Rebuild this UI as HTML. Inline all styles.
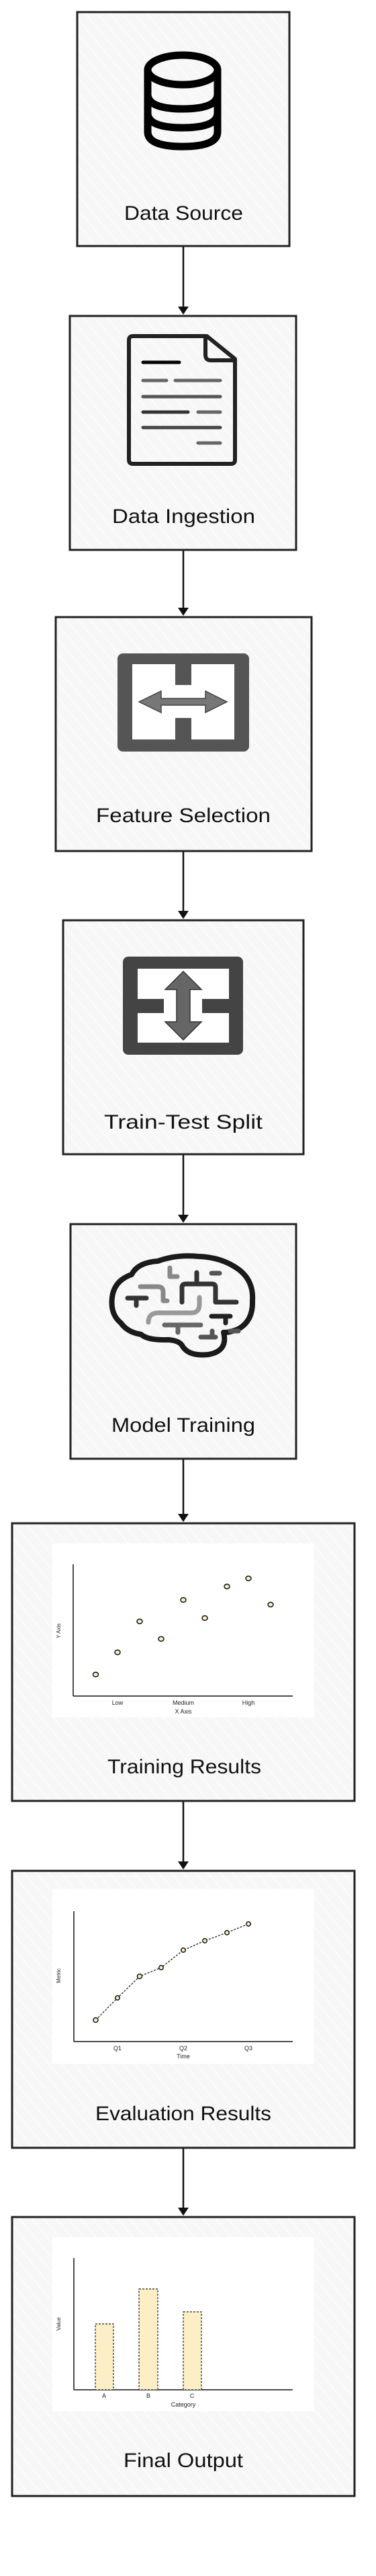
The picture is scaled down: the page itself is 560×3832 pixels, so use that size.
<!DOCTYPE html>
<html><head><meta charset="utf-8"><style>
html,body{margin:0;padding:0;background:#fff;}
svg{display:block;}
.lbl{font-family:"Liberation Sans",sans-serif;font-size:30px;fill:#111;}
.sm{font-family:"Liberation Sans",sans-serif;font-size:9px;fill:#222;}
.box{fill:url(#hatch);stroke:#222;stroke-width:3;}
</style></head><body>
<svg width="560" height="3832" viewBox="0 0 560 3832" xmlns="http://www.w3.org/2000/svg">
<defs>
<pattern id="hatch" patternUnits="userSpaceOnUse" width="14" height="14" patternTransform="rotate(-40)">
<rect width="14" height="14" fill="#f7f7f7"/>
<line x1="0" y1="0" x2="0" y2="14" stroke="#fff" stroke-width="2"/>
</pattern>
<marker id="ah" markerWidth="10" markerHeight="10" refX="8" refY="5" orient="auto" markerUnits="userSpaceOnUse">
</marker>
</defs>

<!-- arrows -->
<g stroke="#111" stroke-width="2.5" fill="#111">
<line x1="273" y1="366" x2="273" y2="458"/><polygon points="265,456 281,456 273,468" stroke="none"/>
<line x1="273" y1="818" x2="273" y2="906"/><polygon points="265,904 281,904 273,916" stroke="none"/>
<line x1="273" y1="1266" x2="273" y2="1357"/><polygon points="265,1355 281,1355 273,1367" stroke="none"/>
<line x1="273" y1="1717" x2="273" y2="1809"/><polygon points="265,1807 281,1807 273,1819" stroke="none"/>
<line x1="273" y1="2170" x2="273" y2="2254"/><polygon points="265,2252 281,2252 273,2264" stroke="none"/>
<line x1="273" y1="2679" x2="273" y2="2771"/><polygon points="265,2769 281,2769 273,2781" stroke="none"/>
<line x1="273" y1="3195" x2="273" y2="3286"/><polygon points="265,3284 281,3284 273,3296" stroke="none"/>
</g>

<!-- boxes -->
<rect class="box" x="115" y="18" width="316" height="348"/>
<rect class="box" x="104" y="470" width="337" height="348"/>
<rect class="box" x="83" y="918" width="381" height="348"/>
<rect class="box" x="94" y="1369" width="358" height="348"/>
<rect class="box" x="105" y="1821" width="336" height="349"/>
<rect class="box" x="18" y="2266" width="510" height="413"/>
<rect class="box" x="18" y="2783" width="510" height="412"/>
<rect class="box" x="18" y="3298" width="510" height="415"/>

<!-- labels -->
<text class="lbl" x="185" y="327" textLength="177" lengthAdjust="spacingAndGlyphs">Data Source</text>
<text class="lbl" x="167" y="778" textLength="213" lengthAdjust="spacingAndGlyphs">Data Ingestion</text>
<text class="lbl" x="143" y="1223" textLength="260" lengthAdjust="spacingAndGlyphs">Feature Selection</text>
<text class="lbl" x="155" y="1679" textLength="236" lengthAdjust="spacingAndGlyphs">Train-Test Split</text>
<text class="lbl" x="166" y="2130" textLength="214" lengthAdjust="spacingAndGlyphs">Model Training</text>
<text class="lbl" x="160" y="2638" textLength="229" lengthAdjust="spacingAndGlyphs">Training Results</text>
<text class="lbl" x="142" y="3154" textLength="262" lengthAdjust="spacingAndGlyphs">Evaluation Results</text>
<text class="lbl" x="184" y="3670" textLength="178" lengthAdjust="spacingAndGlyphs">Final Output</text>

<!-- database icon -->
<g fill="none" stroke="#000" stroke-width="11">
<ellipse cx="272" cy="104" rx="52" ry="22"/>
<path d="M220,104 V196 Q220,218 272,218 Q324,218 324,196 V104"/>
<path d="M220,140 Q220,162 272,162 Q324,162 324,140"/>
<path d="M220,168 Q220,190 272,190 Q324,190 324,168"/>
</g>

<!-- document icon -->
<g fill="none" stroke="#222" stroke-linejoin="round" stroke-linecap="round">
<path d="M198,500 H308 L350,534 V684 Q350,690 344,690 H198 Q192,690 192,684 V506 Q192,500 198,500 Z" stroke-width="6"/>
<path d="M306,502 V528 Q306,536 314,536 H348" stroke-width="6"/>
<g stroke-width="5">
<line x1="213" y1="539" x2="267" y2="539" stroke="#000"/>
<line x1="213" y1="566" x2="248" y2="566" stroke="#666"/>
<line x1="261" y1="566" x2="328" y2="566" stroke="#666"/>
<line x1="213" y1="590" x2="328" y2="590" stroke="#555"/>
<line x1="213" y1="613" x2="280" y2="613" stroke="#333"/>
<line x1="295" y1="613" x2="328" y2="613" stroke="#666"/>
<line x1="213" y1="636" x2="328" y2="636" stroke="#444"/>
<line x1="295" y1="659" x2="328" y2="659" stroke="#666"/>
</g>
</g>

<!-- feature selection icon -->
<g>
<rect x="175" y="972" width="196" height="146" rx="8" fill="#555"/>
<rect x="197" y="988" width="152" height="112" fill="#fff"/>
<rect x="261" y="988" width="24" height="31" fill="#555"/>
<rect x="261" y="1068" width="24" height="32" fill="#555"/>
<polygon points="207,1044 240,1028 240,1039 306,1039 306,1028 338,1044 306,1060 306,1049 240,1049 240,1060" fill="#777" stroke="#444" stroke-width="1.5"/>
</g>

<!-- split icon -->
<g>
<rect x="183" y="1423" width="179" height="146" rx="8" fill="#444"/>
<rect x="205" y="1441" width="136" height="110" fill="#fff"/>
<rect x="205" y="1486" width="39" height="21" fill="#444"/>
<rect x="301" y="1486" width="40" height="21" fill="#444"/>
<polygon points="273,1445 300,1472 283,1472 283,1520 300,1520 273,1547 246,1520 263,1520 263,1472 246,1472" fill="#666" stroke="#333" stroke-width="1.5"/>
</g>

<!-- brain icon -->
<g fill="none" stroke-linecap="round" stroke-linejoin="round">
<path d="M180,1968 Q164,1955 167,1930 Q170,1905 196,1896 Q205,1878 235,1876 Q262,1866 295,1869 Q330,1870 355,1888 Q378,1905 376,1935 Q377,1965 355,1977 Q340,1983 333,1982 Q340,2010 310,2015 Q282,2018 272,2003 Q268,1994 250,1993 Q220,1994 210,1985 Q190,1982 180,1968 Z" stroke="#1a1a1a" stroke-width="8"/>
<g stroke-width="7">
<path d="M209,1914 H235 Q243,1914 243,1922 V1935 H249" stroke="#888"/>
<path d="M253,1886 V1899 H264" stroke="#888"/>
<path d="M190,1931 H218 M203,1931 V1942" stroke="#333"/>
<path d="M271,1937 V1915 Q271,1910 277,1910 H316 Q321,1910 321,1915 V1937 H352 M293,1910 V1893" stroke="#333"/>
<path d="M315,1894 H327" stroke="#555"/>
<path d="M221,1967 Q221,1953 236,1953 H285 Q297,1953 297,1940 V1930" stroke="#999"/>
<path d="M245,1971 H299 M265,1971 V1982" stroke="#666"/>
<path d="M315,1958 H343 M336,1958 V1968" stroke="#222"/>
<path d="M299,1989 H321 M316,1980 V1989" stroke="#555"/>
<path d="M343,1980 H355" stroke="#555"/>
</g>
</g>

<!-- chart 1: scatter -->
<rect x="78" y="2296" width="390" height="259" fill="#fff"/>
<g stroke="#111" stroke-width="1.5" fill="none">
<line x1="109" y1="2327" x2="109" y2="2523"/>
<line x1="109" y1="2523" x2="436" y2="2523"/>
</g>
<g fill="#fbeec8" stroke="#111" stroke-width="1.5">
<ellipse cx="142.5" cy="2491" rx="4" ry="3.5"/>
<ellipse cx="175" cy="2458" rx="4" ry="3.5"/>
<ellipse cx="208" cy="2412" rx="4" ry="3.5"/>
<ellipse cx="240" cy="2438" rx="4" ry="3.5"/>
<ellipse cx="273" cy="2380" rx="4" ry="3.5"/>
<ellipse cx="305" cy="2407" rx="4" ry="3.5"/>
<ellipse cx="338" cy="2360" rx="4" ry="3.5"/>
<ellipse cx="370" cy="2348" rx="4" ry="3.5"/>
<ellipse cx="403" cy="2387" rx="4" ry="3.5"/>
</g>
<text class="sm" x="175" y="2536" text-anchor="middle">Low</text>
<text class="sm" x="273" y="2536" text-anchor="middle">Medium</text>
<text class="sm" x="370" y="2536" text-anchor="middle">High</text>
<text class="sm" x="273" y="2549" text-anchor="middle">X Axis</text>
<text class="sm" x="0" y="0" text-anchor="middle" transform="translate(90,2426) rotate(-90)" style="font-size:8px">Y Axis</text>

<!-- chart 2: line -->
<rect x="78" y="2810" width="390" height="260" fill="#fff"/>
<g stroke="#111" stroke-width="1.5" fill="none">
<line x1="110" y1="2843" x2="110" y2="3037"/>
<line x1="110" y1="3037" x2="436" y2="3037"/>
<polyline points="142.5,3005 175,2972 208,2940 240,2927 273,2901 305,2887 338,2875 370,2862" stroke-dasharray="3,2" stroke-width="1.2"/>
</g>
<g fill="#fbeec8" stroke="#111" stroke-width="1.5">
<circle cx="142.5" cy="3005" r="3.5"/>
<circle cx="175" cy="2972" r="3.2"/>
<circle cx="208" cy="2940" r="3.5"/>
<circle cx="240" cy="2927" r="3.2"/>
<circle cx="273" cy="2901" r="3.2"/>
<circle cx="305" cy="2887" r="3.2"/>
<circle cx="338" cy="2875" r="3.2"/>
<circle cx="370" cy="2862" r="3.2"/>
</g>
<text class="sm" x="175" y="3050" text-anchor="middle">Q1</text>
<text class="sm" x="273" y="3050" text-anchor="middle">Q2</text>
<text class="sm" x="370" y="3050" text-anchor="middle">Q3</text>
<text class="sm" x="273" y="3062" text-anchor="middle">Time</text>
<text class="sm" x="0" y="0" text-anchor="middle" transform="translate(90,2939) rotate(-90)" style="font-size:8px">Metric</text>

<!-- chart 3: bars -->
<rect x="78" y="3328" width="390" height="259" fill="#fff"/>
<g stroke="#111" stroke-width="1.5" fill="none">
<line x1="110" y1="3359" x2="110" y2="3555"/>
<line x1="110" y1="3555" x2="436" y2="3555"/>
</g>
<g fill="#fcefc6" stroke="#222" stroke-width="1.2" stroke-dasharray="3,2">
<rect x="142" y="3457" width="27" height="98"/>
<rect x="207" y="3405" width="28" height="150"/>
<rect x="273" y="3439" width="27" height="116"/>
</g>
<text class="sm" x="155" y="3567" text-anchor="middle">A</text>
<text class="sm" x="221" y="3567" text-anchor="middle">B</text>
<text class="sm" x="286" y="3567" text-anchor="middle">C</text>
<text class="sm" x="273" y="3580" text-anchor="middle">Category</text>
<text class="sm" x="0" y="0" text-anchor="middle" transform="translate(90,3457) rotate(-90)" style="font-size:8px">Value</text>
</svg>
</body></html>
